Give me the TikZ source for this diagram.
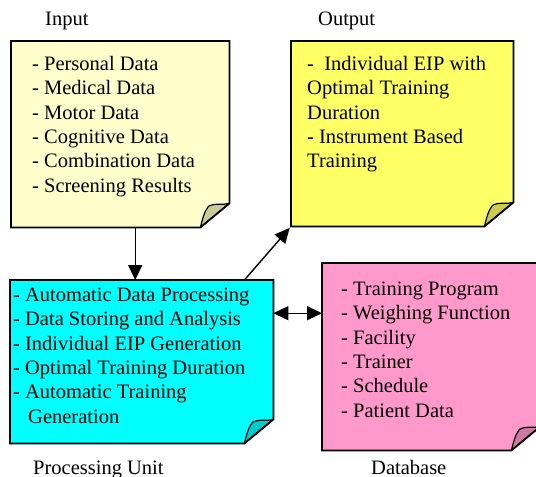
\documentclass[tikz,border=0pt]{standalone}
\usepackage{fontspec}
\setmainfont{Liberation Serif}
\usetikzlibrary{shapes,arrows.meta,positioning}

\definecolor{inputfill}{HTML}{FFFFCC}
\definecolor{inputfold}{HTML}{CCCC99}
\definecolor{outputfill}{HTML}{FFFF66}
\definecolor{outputfold}{HTML}{CCCC52}
\definecolor{procfill}{HTML}{00FFFF}
\definecolor{procfold}{HTML}{00CCCC}
\definecolor{dbfill}{HTML}{FF99CC}
\definecolor{dbfold}{HTML}{CC7AA3}

\tikzstyle{note} = [rectangle, inner sep=0pt, anchor=north west]
\tikzstyle{notetext} = [inner sep=0pt, anchor=north west, align=left,
    font=\fontsize{20.5}{24.4}\selectfont]
\tikzstyle{caption} = [inner sep=0pt, anchor=base west,
    font=\fontsize{20.5}{24.4}\selectfont]
\tikzstyle{line} = [draw, line width=1.4pt, -{Triangle[length=15pt,width=14pt]}]
\tikzstyle{dline} = [draw, line width=1.4pt,
    {Triangle[length=15pt,width=14pt]}-{Triangle[length=15pt,width=14pt]}]

% sheet with a curled lower right corner
\newcommand{\notepage}[3]{%
  \fill[#2] (#1.north west) -- (#1.north east) -- ([yshift=24pt]#1.south east)
    -- ([xshift=-29pt]#1.south east) -- (#1.south west) -- cycle;
  \filldraw[fill=#3, line width=1.2pt, line join=round]
    ([xshift=-29pt]#1.south east)
    .. controls ([shift={(-27pt,8pt)}]#1.south east) and ([shift={(-25pt,16pt)}]#1.south east)
    .. ([shift={(-21pt,21pt)}]#1.south east)
    .. controls ([shift={(-14pt,25pt)}]#1.south east) and ([shift={(-6pt,22pt)}]#1.south east)
    .. ([yshift=24pt]#1.south east) -- cycle;
  \draw[line width=1.8pt] (#1.north west) -- (#1.north east) -- ([yshift=24pt]#1.south east)
    -- ([xshift=-29pt]#1.south east) -- (#1.south west) -- cycle;
}

\begin{document}
\begin{tikzpicture}[x=1pt, y=-1pt]
    \useasboundingbox (0,0) rectangle (536,477);
    \clip (0,0) rectangle (536,477);

    % Sheets
    \node [note, minimum width=218, minimum height=186] (input) at (11,41) {};
    \node [note, minimum width=222, minimum height=185] (output) at (291,41) {};
    \node [note, minimum width=263, minimum height=163] (proc) at (10,280) {};
    \node [note, minimum width=218, minimum height=187] (db) at (322,263) {};

    \notepage{input}{inputfill}{inputfold}
    \notepage{output}{outputfill}{outputfold}
    \notepage{proc}{procfill}{procfold}
    \notepage{db}{dbfill}{dbfold}

    % Texts
    \node [notetext] (inputtext) at ([shift={(21pt,-12pt)}]input.north west)
        {\strut- Personal Data\\- Medical Data\\- Motor Data\\- Cognitive Data\\
         - Combination Data\\- Screening Results};
    \node [notetext] (outputtext) at ([shift={(16pt,-12pt)}]output.north west)
        {\strut-\ \ Individual EIP with\\Optimal Training\\Duration\\
         - Instrument Based\\Training};
    \node [notetext] (proctext) at ([shift={(3pt,-4pt)}]proc.north west)
        {\strut- Automatic Data Processing\\- Data Storing and Analysis\\
         - Individual EIP Generation\\- Optimal Training Duration\\
         - Automatic Training\\\hspace*{15pt}Generation};
    \node [notetext] (dbtext) at ([shift={(19pt,-15pt)}]db.north west)
        {\strut- Training Program\\- Weighing Function\\- Facility\\- Trainer\\
         - Schedule\\- Patient Data};

    % Captions
    \node [caption] (inputlabel) at (45,25) {Input};
    \node [caption] (outputlabel) at (318,25) {Output};
    \node [caption] (proclabel) at (33,474) {Processing Unit};
    \node [caption] (dblabel) at (371,474) {Database};

    % Draw edges
    \path [line] ([xshift=15pt]input.south) -- ([xshift=15pt]input.south |- proc.north);
    \path [line, shorten >=2pt] ([xshift=-29pt]proc.north east) -- (output.south west);
    \path [dline] ([yshift=48.5pt]proc.east) -- ([yshift=48.5pt]proc.east -| db.west);

\end{tikzpicture}
\end{document}
